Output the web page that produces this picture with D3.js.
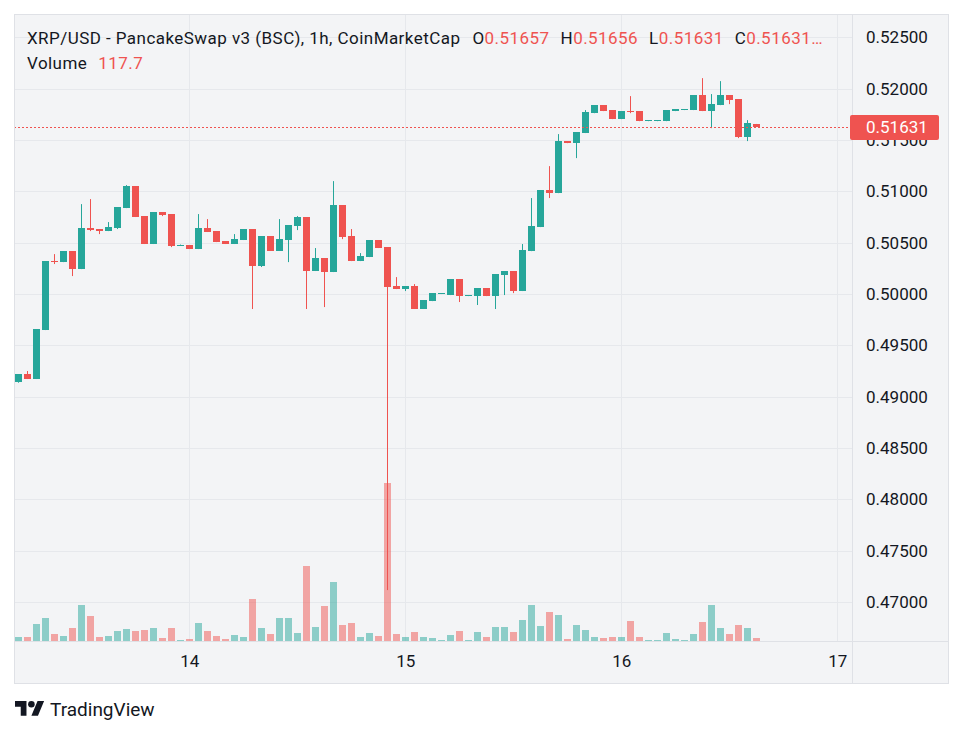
<!DOCTYPE html>
<html><head><meta charset="utf-8">
<script src="https://cdn.jsdelivr.net/npm/d3@7"></script>
<style>
body{margin:0;background:#fff;}
svg{display:block;font-family:Roboto,"Noto Sans",sans-serif;}
</style>
</head><body>
<svg id="c" width="963" height="736"></svg>
<script>
// ---------------- DATA ----------------
const startTime = "2023-11-13T05:00:00Z"; // first hourly candle
const opens  = [0.49143,0.49221,0.49172,0.49649,0.50321,0.50311,0.50419,0.50243,0.50643,0.50633,
  0.50613,0.50643,0.50837,0.51052,0.50759,0.50487,0.50798,0.50779,0.50472,0.50477,
  0.50438,0.50643,0.50613,0.50516,0.50487,0.50526,0.50633,0.50272,0.50565,0.50419,
  0.50526,0.50662,0.50750,0.50224,0.50350,0.50214,0.50867,0.50565,0.50321,0.50360,
  0.50526,0.50457,0.50078,0.50048,0.50078,0.49854,0.49931,0.50000,0.49990,0.50146,
  0.49980,0.49980,0.50058,0.49980,0.50185,0.50224,0.50029,0.50418,0.50652,0.51013,
  0.50983,0.51490,0.51470,0.51568,0.51762,0.51840,0.51792,0.51704,0.51782,0.51782,
  0.51684,0.51684,0.51684,0.51782,0.51792,0.51792,0.51938,0.51782,0.51840,0.51938,
  0.51899,0.51529,0.51657];
const highs  = [0.49221,0.49250,0.49659,0.50321,0.50389,0.50419,0.50419,0.50876,0.50925,0.50633,
  0.50701,0.50847,0.51061,0.51052,0.50759,0.50798,0.50798,0.50779,0.50482,0.50477,
  0.50779,0.50730,0.50613,0.50516,0.50584,0.50633,0.50633,0.50565,0.50565,0.50730,
  0.50672,0.50759,0.50750,0.50448,0.50350,0.51100,0.50867,0.50633,0.50399,0.50526,
  0.50526,0.50457,0.50165,0.50078,0.50097,0.49941,0.50009,0.50009,0.50146,0.50146,
  0.49990,0.50058,0.50058,0.50195,0.50224,0.50224,0.50487,0.50935,0.51013,0.51246,
  0.51558,0.51490,0.51578,0.51792,0.51840,0.51840,0.51792,0.51782,0.51928,0.51782,
  0.51694,0.51694,0.51792,0.51802,0.51802,0.51938,0.52103,0.51948,0.52074,0.51938,
  0.51899,0.51694,0.51657];
const lows   = [0.49136,0.49172,0.49172,0.49649,0.50292,0.50311,0.50175,0.50243,0.50613,0.50584,
  0.50613,0.50633,0.50837,0.50750,0.50487,0.50487,0.50759,0.50457,0.50472,0.50438,
  0.50438,0.50604,0.50506,0.50487,0.50487,0.50526,0.49854,0.50263,0.50419,0.50419,
  0.50311,0.50623,0.49854,0.50224,0.49873,0.50214,0.50535,0.50321,0.50321,0.50360,
  0.50448,0.47116,0.50048,0.50029,0.49854,0.49854,0.49931,0.50000,0.49990,0.49922,
  0.49980,0.49893,0.49980,0.49854,0.49990,0.50009,0.50029,0.50418,0.50652,0.50935,
  0.50983,0.51470,0.51324,0.51568,0.51762,0.51782,0.51704,0.51704,0.51762,0.51684,
  0.51684,0.51684,0.51684,0.51782,0.51792,0.51792,0.51782,0.51616,0.51840,0.51850,
  0.51519,0.51490,0.51631];
const closes = [0.49221,0.49172,0.49659,0.50321,0.50312,0.50419,0.50243,0.50643,0.50623,0.50613,
  0.50652,0.50847,0.51052,0.50750,0.50487,0.50798,0.50769,0.50467,0.50482,0.50438,
  0.50643,0.50604,0.50506,0.50487,0.50535,0.50633,0.50272,0.50565,0.50419,0.50535,
  0.50672,0.50750,0.50224,0.50350,0.50214,0.50867,0.50555,0.50321,0.50370,0.50526,
  0.50448,0.50068,0.50048,0.50078,0.49854,0.49941,0.50009,0.50009,0.50146,0.49980,
  0.49990,0.50058,0.49980,0.50195,0.50224,0.50029,0.50428,0.50662,0.51013,0.50983,
  0.51490,0.51470,0.51578,0.51772,0.51840,0.51782,0.51704,0.51782,0.51772,0.51684,
  0.51694,0.51694,0.51792,0.51802,0.51802,0.51938,0.51782,0.51850,0.51938,0.51889,
  0.51529,0.51665,0.51631];
const volumes = [156.8,156.8,666.4,901.6,274.4,196.0,509.6,1411.2,980.0,156.8,
  196.0,392.0,470.4,392.0,431.2,509.6,117.6,509.6,39.2,78.4,
  705.6,392.0,196.0,78.4,235.2,156.8,1646.4,509.6,274.4,901.6,
  901.6,313.6,2940.0,548.8,1372.0,2312.8,627.2,705.6,156.8,313.6,
  196.0,6193.6,274.4,156.8,352.8,156.8,117.6,39.2,235.2,392.0,
  39.2,352.8,156.8,548.8,548.8,352.8,823.2,1411.2,588.0,1136.8,
  1019.2,78.4,627.2,431.2,156.8,117.6,156.8,156.8,784.0,156.8,
  39.2,39.2,313.6,78.4,39.2,274.4,744.8,1411.2,509.6,274.4,
  627.2,509.6,117.7];
const priceTicks = [0.525,0.520,0.515,0.510,0.505,0.500,0.495,0.490,0.485,0.480,0.475,0.470];
const dayTicks = ["2023-11-14T00:00:00Z","2023-11-15T00:00:00Z","2023-11-16T00:00:00Z","2023-11-17T00:00:00Z"];
const titleText = "XRP/USD - PancakeSwap v3 (BSC), 1h, CoinMarketCap";
const ohlcLabels = ["O","H","L","C"];
const ohlcValues = ["0.51657","0.51656","0.51631","0.51631…"];
const volumeLabel = "Volume";
const volumeValue = "117.7";
const lastPrice = 0.51631;

// ---------------- LAYOUT / STYLE ----------------
const UP = "#26a69a", DOWN = "#ef5350";
const UPV = "rgba(38,166,154,0.5)", DOWNV = "rgba(239,83,80,0.5)";
const BG = "#f3f4f6", GRID = "#e6e8ec", BORDER = "#dfe1e6", TXT = "#131722";
const frame = {l:14, t:14, r:948, b:683};
const paneR = 852, paneB = 641;

const svg = d3.select("#c");
const t0 = new Date(startTime);
const data = opens.map((o,i)=>({t:d3.utcHour.offset(t0,i), o, h:highs[i], l:lows[i], c:closes[i], v:volumes[i]}));
const days = dayTicks.map(d=>new Date(d));

const x = d3.scaleUtc().domain([days[0], days[3]]).range([189.3, 837.3]);
const y = d3.scaleLinear().domain([0.470, 0.525]).range([602, 37.4]);
const yv = d3.scaleLinear().domain([0, d3.max(volumes)]).range([paneB, paneB - 0.252*(paneB-frame.t)]);

// background
svg.append("rect").attr("x",frame.l+0.5).attr("y",frame.t+0.5)
  .attr("width",frame.r-frame.l).attr("height",frame.b-frame.t)
  .attr("fill",BG).attr("stroke",BORDER);

svg.append("defs").append("clipPath").attr("id","pane").append("rect")
  .attr("x",frame.l+1).attr("y",frame.t+1).attr("width",paneR-frame.l-1).attr("height",paneB-frame.t-1);
const pane = svg.append("g").attr("clip-path","url(#pane)");

// grid
pane.selectAll(".hg").data(priceTicks).join("line")
  .attr("x1",frame.l).attr("x2",paneR)
  .attr("y1",d=>Math.round(y(d))+0.5).attr("y2",d=>Math.round(y(d))+0.5)
  .attr("stroke",GRID);
pane.selectAll(".vg").data(days).join("line")
  .attr("y1",frame.t).attr("y2",paneB)
  .attr("x1",d=>Math.round(x(d))+0.5).attr("x2",d=>Math.round(x(d))+0.5)
  .attr("stroke",GRID);

const hourW = x(d3.utcHour.offset(days[0],1)) - x(days[0]);
const bw = Math.round(hourW*0.78);
const left = d => Math.round(x(d.t) - bw/2);

// volume
pane.selectAll(".vol").data(data).join("rect")
  .attr("x",d=>left(d)).attr("width",bw)
  .attr("y",d=>Math.round(yv(d.v))).attr("height",d=>paneB-Math.round(yv(d.v)))
  .attr("fill",d=>d.c>=d.o?UPV:DOWNV);

// candles
const cg = pane.append("g");
cg.selectAll(".wick").data(data).join("line")
  .attr("x1",d=>left(d)+bw/2).attr("x2",d=>left(d)+bw/2)
  .attr("y1",d=>y(d.h)).attr("y2",d=>y(d.l))
  .attr("stroke",d=>d.c>=d.o?UP:DOWN).attr("stroke-width",1);
cg.selectAll(".body").data(data).join("rect")
  .attr("x",d=>left(d)).attr("width",bw)
  .attr("y",d=>Math.round(y(Math.max(d.o,d.c))))
  .attr("height",d=>Math.max(1,Math.round(y(Math.min(d.o,d.c)))-Math.round(y(Math.max(d.o,d.c)))))
  .attr("fill",d=>d.c>=d.o?UP:DOWN);

// last price line
const ly = Math.round(y(lastPrice))+0.5;
pane.append("line").attr("x1",frame.l).attr("x2",paneR).attr("y1",ly).attr("y2",ly)
  .attr("stroke",DOWN).attr("stroke-width",1).attr("stroke-dasharray","2,2");

// separators
svg.append("line").attr("x1",paneR+0.5).attr("x2",paneR+0.5).attr("y1",frame.t).attr("y2",frame.b).attr("stroke",BORDER);
svg.append("line").attr("x1",frame.l).attr("x2",frame.r).attr("y1",paneB+0.5).attr("y2",paneB+0.5).attr("stroke",BORDER);

// price axis
const ya = svg.append("g").attr("transform",`translate(${paneR},0)`)
  .call(d3.axisRight(y).tickValues(priceTicks).tickFormat(d3.format(".5f")).tickSize(0).tickPadding(14));
ya.select(".domain").remove();
ya.selectAll("text").attr("font-size",17).attr("fill",TXT).attr("font-family",'Roboto,"Noto Sans",sans-serif');

// time axis
const xa = svg.append("g").attr("transform",`translate(0,${paneB})`)
  .call(d3.axisBottom(x).tickValues(days).tickFormat(d3.utcFormat("%-d")).tickSize(0).tickPadding(14));
xa.select(".domain").remove();
xa.selectAll("text").attr("font-size",17).attr("fill",TXT).attr("font-family",'Roboto,"Noto Sans",sans-serif');

// last price label
const lg = svg.append("g");
lg.append("rect").attr("x",paneR-2).attr("y",ly-12.5).attr("width",89).attr("height",25).attr("rx",2).attr("fill",DOWN);
lg.append("text").attr("x",paneR+14).attr("y",ly).attr("dy","0.35em").attr("font-size",17).attr("fill","#fff").text(d3.format(".5f")(lastPrice));

// legend
const t1 = svg.append("text").attr("x",27).attr("y",44).attr("font-size",17).attr("letter-spacing",0.45).attr("fill",TXT);
t1.append("tspan").text(titleText);
ohlcLabels.forEach((lab,i)=>{
  t1.append("tspan").attr("dx",i===0?12:11).text(lab);
  t1.append("tspan").attr("fill",DOWN).text(ohlcValues[i]);
});
const t2 = svg.append("text").attr("x",27).attr("y",69).attr("font-size",17).attr("letter-spacing",0.45).attr("fill",TXT);
t2.append("tspan").text(volumeLabel);
t2.append("tspan").attr("dx",11).attr("fill",DOWN).text(volumeValue);

// TradingView logo
const logo = svg.append("g").attr("transform","translate(15,697.7) scale(0.82)").attr("fill",TXT);
logo.append("path").attr("d","M14 22H7V11H0V4h14v18zM28 22h-8l7.5-18h8L28 22z");
logo.append("circle").attr("cx",20).attr("cy",8).attr("r",4);
svg.append("text").attr("x",50).attr("y",716).attr("font-size",19).attr("fill",TXT).text("TradingView");
</script>
</body></html>
